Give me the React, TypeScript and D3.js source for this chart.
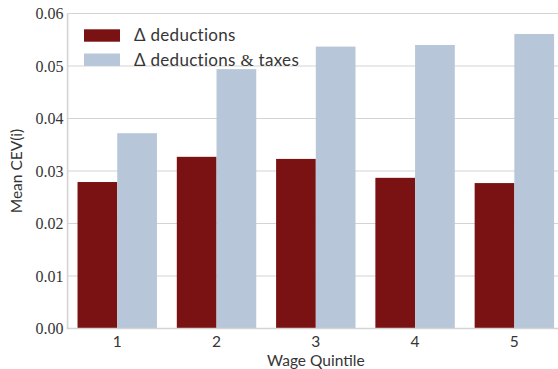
import React from "react";
import * as d3 from "d3";

// Wage quintiles on the x axis
const quintiles = ["1", "2", "3", "4", "5"];
// Mean CEV(i) per quintile for each policy change
const deductions = [0.0279, 0.0327, 0.0323, 0.0287, 0.0277];
const deductionsTaxes = [0.0372, 0.0494, 0.0537, 0.054, 0.0561];
const yTicks = [0, 0.01, 0.02, 0.03, 0.04, 0.05, 0.06];
const seriesNames = ["deductions", "deductionsTaxes"];

const W = 558;
const H = 369;
const left = 67.6;
const right = 564;
const top = 13.5;
const bottom = 328.5;

const DARK = "#7a1213";
const LIGHT = "#b7c6d8";
const GRID = "#d4d4d4";
const TEXT = "#353535";
const SANS = "Lato, 'Open Sans', sans-serif";
const SERIF = "Liberation Serif";

export default function App() {
  const x = d3
    .scaleBand<string>()
    .domain(quintiles)
    .range([left, right])
    .paddingInner(0.2)
    .paddingOuter(0.1);
  const xs = d3
    .scaleBand<string>()
    .domain(seriesNames)
    .range([0, x.bandwidth()]);
  const y = d3.scaleLinear().domain([0, 0.06]).range([bottom, top]);

  const series = [
    { key: "deductions", values: deductions, color: DARK },
    { key: "deductionsTaxes", values: deductionsTaxes, color: LIGHT },
  ];

  const serifStyle = { fontFamily: SERIF, fontSize: "16px" };
  const sansStyle = { fontFamily: SANS, fontSize: "15.5px" };
  const legendStyle = { fontFamily: SANS, fontSize: "17px", letterSpacing: "0.3px" };

  return (
    <svg
      width={W}
      height={H}
      style={{ position: "absolute", left: 0, top: 0, background: "#fff" }}
    >
      {/* horizontal grid */}
      {yTicks.map((t) => (
        <line
          key={t}
          x1={left}
          x2={right}
          y1={y(t)}
          y2={y(t)}
          stroke={GRID}
          strokeWidth={1.2}
        />
      ))}
      {/* bars */}
      {series.map((s) =>
        quintiles.map((q, i) => (
          <rect
            key={s.key + q}
            x={(x(q) as number) + (xs(s.key) as number)}
            y={y(s.values[i])}
            width={xs.bandwidth()}
            height={y(0) - y(s.values[i])}
            fill={s.color}
          />
        ))
      )}
      {/* spines */}
      <line x1={left} x2={left} y1={top} y2={bottom} stroke={GRID} strokeWidth={1.6} />
      <line x1={left - 1} x2={right} y1={bottom} y2={bottom} stroke={GRID} strokeWidth={1.6} />
      {/* y tick labels */}
      {yTicks.map((t) => (
        <text
          key={"yl" + t}
          x={left - 4}
          y={y(t)}
          dy="0.35em"
          textAnchor="end"
          style={serifStyle}
          fill={TEXT}
        >
          {t.toFixed(2)}
        </text>
      ))}
      {/* x tick labels */}
      {quintiles.map((q) => (
        <text
          key={"xl" + q}
          x={(x(q) as number) + x.bandwidth() / 2}
          y={347}
          textAnchor="middle"
          style={sansStyle}
          fill={TEXT}
        >
          {q}
        </text>
      ))}
      {/* axis titles */}
      <text
        x={(left + right) / 2}
        y={366}
        textAnchor="middle"
        style={sansStyle}
        fill={TEXT}
      >
        Wage Quintile
      </text>
      <text
        transform={`translate(22,${(top + bottom) / 2}) rotate(-90)`}
        textAnchor="middle"
        style={sansStyle}
        fill={TEXT}
      >
        Mean CEV(i)
      </text>
      {/* legend */}
      <rect x={84} y={29.3} width={36} height={12.4} fill={DARK} />
      <rect x={84} y={53.5} width={36} height={12.4} fill={LIGHT} />
      <text x={134} y={40.7} style={legendStyle} fill={TEXT}>
        Δ deductions
      </text>
      <text x={134} y={65.5} style={legendStyle} fill={TEXT}>
        Δ deductions <tspan style={{ fontFamily: SERIF, fontSize: "17px" }}>&amp;</tspan> taxes
      </text>
    </svg>
  );
}
